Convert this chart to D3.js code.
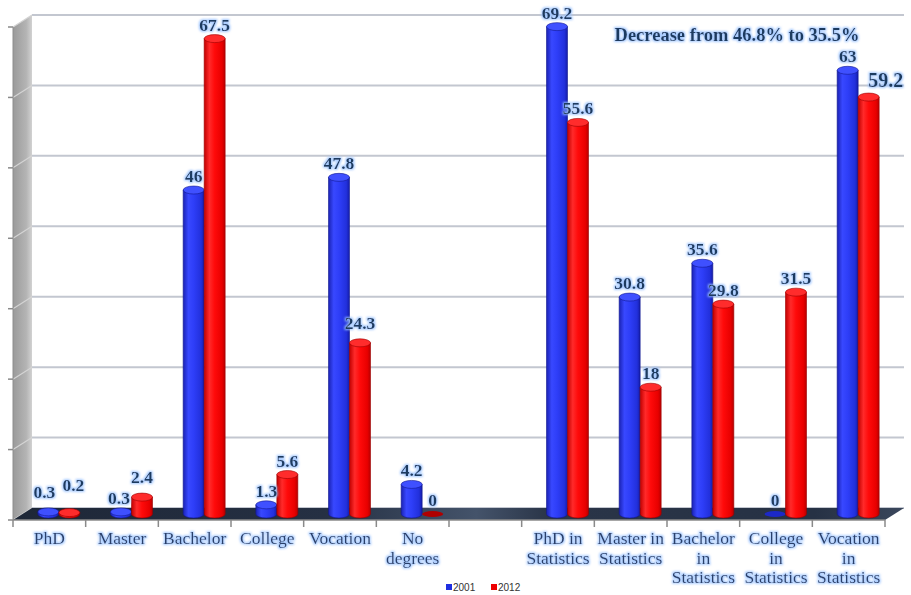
<!DOCTYPE html>
<html>
<head>
<meta charset="utf-8">
<script src="https://cdn.jsdelivr.net/npm/d3@7"></script>
<style>
  html, body { margin: 0; padding: 0; background: #ffffff; }
  svg { display: block; }
</style>
</head>
<body>
<svg id="chart" width="911" height="595"></svg>
<script>
// Degree categories (the empty one is the spacer between the two groups)
const categories = ["PhD", "Master", "Bachelor", "College", "Vocation", "No degrees", "",
  "PhD in Statistics", "Master in Statistics", "Bachelor in Statistics",
  "College in Statistics", "Vocation in Statistics"];
// Category label lines
const categoryLines = [["PhD"], ["Master"], ["Bachelor"], ["College"], ["Vocation"], ["No", "degrees"], [],
  ["PhD in", "Statistics"], ["Master in", "Statistics"], ["Bachelor", "in", "Statistics"],
  ["College", "in", "Statistics"], ["Vocation", "in", "Statistics"]];
const seriesNames = ["2001", "2012"];
const values2001 = [0.3, 0.3, 46, 1.3, 47.8, 4.2, null, 69.2, 30.8, 35.6, 0, 63];
const values2012 = [0.2, 2.4, 67.5, 5.6, 24.3, 0, null, 55.6, 18, 29.8, 31.5, 59.2];
const labels2001 = ["0.3", "0.3", "46", "1.3", "47.8", "4.2", null, "69.2", "30.8", "35.6", "0", "63"];
const labels2012 = ["0.2", "2.4", "67.5", "5.6", "24.3", "0", null, "55.6", "18", "29.8", "31.5", "59.2"];
const valueTicks = [0, 10, 20, 30, 40, 50, 60, 70];
const noteText = "Decrease from 46.8% to 35.5%";

const svg = d3.select("#chart");
const defs = svg.append("defs");

// Floor front edge spans the band range; the back wall sits one depth step behind it
const depthX = 19, depthY = -12;
const floorFrontY = 520;
const x = d3.scaleBand().domain(categories).range([13, 885]).paddingInner(0).paddingOuter(0);
const y = d3.scaleLinear().domain([0, 70]).range([508, 15]); // on the back wall
const barW = 21;
const xs = d3.scaleBand().domain(seriesNames)
  .range([x.bandwidth() / 2 - barW, x.bandwidth() / 2 + barW]).padding(0);

const backLeft = x.range()[0] + depthX;
const backRight = x.range()[1] + depthX;
const serif = "'Liberation Serif', 'Times New Roman', serif";

// ---- gradients & filters ----
function hGrad(id, stops) {
  const g = defs.append("linearGradient").attr("id", id).attr("x1", 0).attr("x2", 1).attr("y1", 0).attr("y2", 0);
  stops.forEach(([o, c]) => g.append("stop").attr("offset", o).attr("stop-color", c));
}
hGrad("blueBody", [[0, "#1a22b4"], [0.25, "#3848ff"], [0.5, "#2e3ef8"], [0.85, "#2230dc"], [1, "#141ca8"]]);
hGrad("redBody", [[0, "#c20000"], [0.25, "#ff2a2a"], [0.5, "#ff0a0a"], [0.85, "#e80000"], [1, "#b80000"]]);
hGrad("wallGrad", [[0, "#9a9a9a"], [0.7, "#b4b4b4"], [1, "#d2d2d2"]]);
hGrad("floorGrad", [[0, "#1e2737"], [0.35, "#253043"], [0.52, "#44536a"], [0.6, "#2a3548"], [0.9, "#263144"], [1, "#3a475c"]]);

const glow = defs.append("filter").attr("id", "glow").attr("x", "-20%").attr("y", "-30%").attr("width", "140%").attr("height", "160%");
glow.append("feMorphology").attr("in", "SourceAlpha").attr("operator", "dilate").attr("radius", 0.7).attr("result", "d");
glow.append("feGaussianBlur").attr("in", "d").attr("stdDeviation", 0.8).attr("result", "b");
glow.append("feFlood").attr("flood-color", "#9cc4ff").attr("flood-opacity", 0.9);
glow.append("feComposite").attr("in2", "b").attr("operator", "in").attr("result", "g");
const gm = glow.append("feMerge");
gm.append("feMergeNode").attr("in", "g");
gm.append("feMergeNode").attr("in", "SourceGraphic");

// ---- back wall with gridlines ----
svg.append("rect").attr("x", backLeft).attr("y", y(70)).attr("width", backRight - backLeft)
  .attr("height", y(0) - y(70)).attr("fill", "#ffffff");

// ---- left side wall ----
const wallPts = [[backLeft, y(70)], [backLeft - depthX, y(70) - depthY], [backLeft - depthX, y(0) - depthY], [backLeft, y(0)]];
svg.append("polygon").attr("points", wallPts.map(p => p.join(",")).join(" ")).attr("fill", "url(#wallGrad)");

const grid = svg.append("g");
valueTicks.forEach(v => {
  grid.append("line").attr("x1", backLeft).attr("x2", backRight).attr("y1", y(v)).attr("y2", y(v))
    .attr("stroke", "#c3c7d0").attr("stroke-width", 2);
  // slanted continuation across the side wall
  grid.append("line").attr("x1", backLeft - depthX).attr("y1", y(v) - depthY).attr("x2", backLeft).attr("y2", y(v))
    .attr("stroke", "#d4d4d4").attr("stroke-width", 1.2);
  // tick mark on the wall's front edge
  grid.append("line").attr("x1", backLeft - depthX - 5).attr("x2", backLeft - depthX).attr("y1", y(v) - depthY).attr("y2", y(v) - depthY)
    .attr("stroke", "#8a8a8a").attr("stroke-width", 1.5);
});
svg.append("line").attr("x1", backLeft - depthX).attr("x2", backLeft - depthX)
  .attr("y1", y(70) - depthY).attr("y2", y(0) - depthY).attr("stroke", "#8e8e8e").attr("stroke-width", 1);

// ---- floor ----
const floorPts = [[x.range()[0], floorFrontY], [x.range()[1], floorFrontY], [backRight, y(0)], [backLeft, y(0)]];
svg.append("polygon").attr("points", floorPts.map(p => p.join(",")).join(" ")).attr("fill", "url(#floorGrad)");

// front axis line and category boundary ticks
const axisG = svg.append("g");
axisG.append("line").attr("x1", x.range()[0]).attr("x2", x.range()[1]).attr("y1", floorFrontY).attr("y2", floorFrontY)
  .attr("stroke", "#8a8a8a").attr("stroke-width", 1.5);
const boundaries = categories.map(c => x(c)).concat([x.range()[1]]);
boundaries.forEach(bx => {
  axisG.append("line").attr("x1", bx).attr("x2", bx).attr("y1", floorFrontY).attr("y2", floorFrontY + 7)
    .attr("stroke", "#8a8a8a").attr("stroke-width", 1.5);
});

// category labels via a bottom axis, split into lines
const catAxis = svg.append("g").attr("transform", `translate(0,${floorFrontY})`)
  .call(d3.axisBottom(x).tickSize(0).tickFormat(""));
catAxis.select(".domain").remove();
catAxis.selectAll(".tick").each(function (d, i) {
  const t = d3.select(this).append("text")
    .attr("fill", "#2c3f6a").attr("font-family", serif)
    .attr("font-size", 17.5).attr("text-anchor", "middle").attr("filter", "url(#glow)");
  categoryLines[i].forEach((line, k) => {
    t.append("tspan").attr("x", 0).attr("y", 24 + k * 19.5).text(line);
  });
});

// ---- cylinders ----
const series = [
  { name: "2001", values: values2001, labels: labels2001, body: "url(#blueBody)", top: "#3f50ff", edge: "#101890", flat: "#1c28c8" },
  { name: "2012", values: values2012, labels: labels2012, body: "url(#redBody)", top: "#ff2c2c", edge: "#9a0000", flat: "#b00000" }
];
const ry = 4;
const rx = barW / 2;
const barsG = svg.append("g");
const labelsG = svg.append("g");

// per-label adjustments
const labelTweak = {
  "PhD|2001": { dx: -4, dy: -6 },
  "PhD|2012": { dx: 4, dy: -14 },
  "Master|2001": { dx: -2 },
  "Master|2012": { dy: -6 },
  "Vocation|2012": { dy: -6 },
  "Vocation in Statistics|2012": { dx: 17, dy: -2, size: 20 }
};

categories.forEach((cat, i) => {
  series.forEach(s => {
    const v = s.values[i];
    if (v === null) return;
    const cx = x(cat) + xs(s.name) + xs.bandwidth() / 2 + depthX / 2;
    const base = y(0) - depthY / 2;
    const top = y(v) - depthY / 2;
    const g = barsG.append("g");
    if (top < base - 1) {
      g.append("path")
        .attr("d", `M${cx - rx},${top} L${cx - rx},${base} A${rx},${ry} 0 0 0 ${cx + rx},${base} L${cx + rx},${top} Z`)
        .attr("fill", s.body).attr("stroke", s.edge).attr("stroke-width", 0.6);
      g.append("ellipse").attr("cx", cx).attr("cy", top).attr("rx", rx).attr("ry", ry)
        .attr("fill", s.top).attr("stroke", s.edge).attr("stroke-width", 0.6);
    } else {
      g.append("ellipse").attr("cx", cx).attr("cy", base).attr("rx", rx).attr("ry", ry - 1)
        .attr("fill", s.flat);
    }
    const tw = labelTweak[cat + "|" + s.name] || {};
    labelsG.append("text")
      .attr("x", cx + (tw.dx || 0)).attr("y", top - 8 + (tw.dy || 0))
      .attr("text-anchor", "middle")
      .attr("font-family", serif)
      .attr("font-weight", "bold").attr("font-size", tw.size || 17.5)
      .attr("fill", "#1f3a60").attr("filter", "url(#glow)")
      .text(s.labels[i]);
  });
});

// note at top right
svg.append("text").attr("x", 737).attr("y", 41).attr("text-anchor", "middle")
  .attr("font-family", serif)
  .attr("font-weight", "bold").attr("font-size", 18.5)
  .attr("fill", "#1f3a60").attr("filter", "url(#glow)")
  .text(noteText);

// ---- legend ----
const legend = svg.append("g").attr("transform", "translate(446,584)");
const legendColors = ["#1f2fe0", "#ee0000"];
seriesNames.forEach((n, i) => {
  const lg = legend.append("g").attr("transform", `translate(${i * 45},0)`);
  lg.append("rect").attr("width", 6).attr("height", 6).attr("fill", legendColors[i]);
  lg.append("text").attr("x", 7).attr("y", 6.5).attr("font-size", 10)
    .attr("font-family", "'Liberation Sans', Arial, sans-serif").attr("fill", "#333").text(n);
});
</script>
</body>
</html>
